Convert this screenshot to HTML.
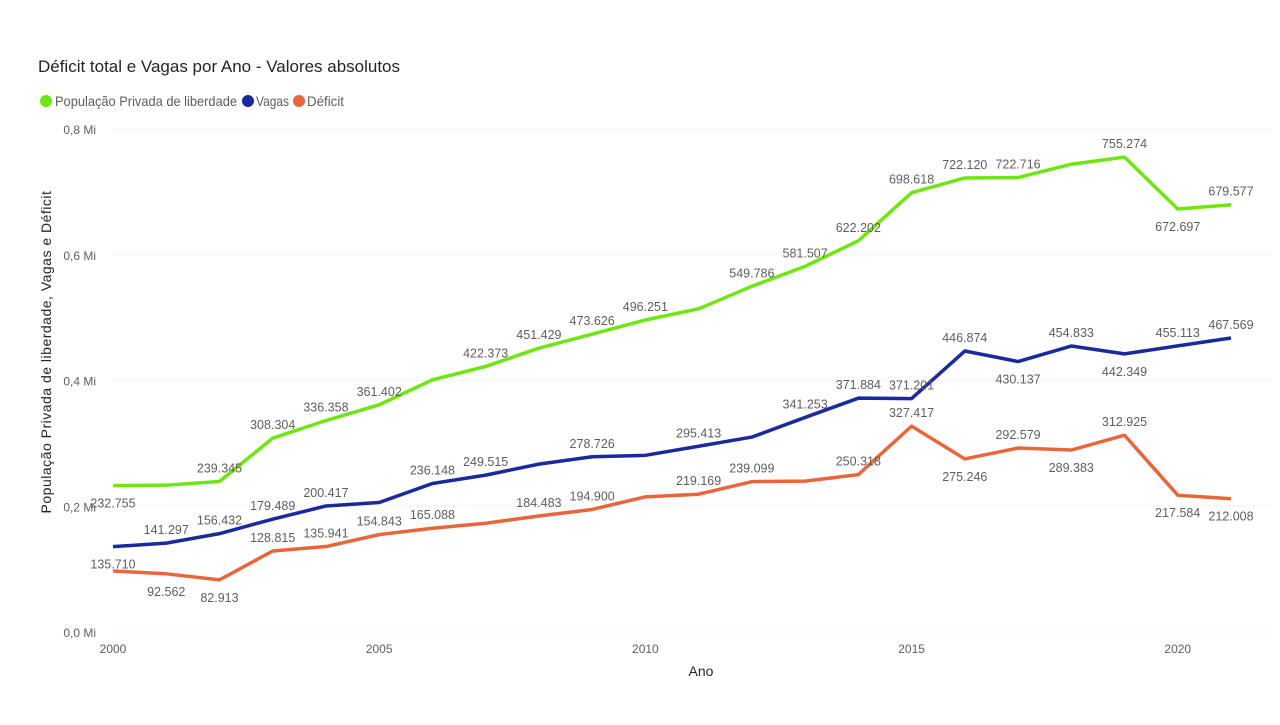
<!DOCTYPE html>
<html><head><meta charset="utf-8"><style>
body{margin:0;background:#fff;width:1280px;height:720px;overflow:hidden;font-family:"Liberation Sans","DejaVu Sans",sans-serif}
</style></head><body>
<svg id="chart" width="1280" height="720" xmlns="http://www.w3.org/2000/svg">
<text x="38" y="72" font-size="17" fill="#252423" textLength="362" lengthAdjust="spacingAndGlyphs">Déficit total e Vagas por Ano - Valores absolutos</text>
<g font-size="14" fill="#605E5C">
<circle cx="46" cy="101" r="6" fill="#6EE612"/><text x="55" y="106" textLength="182" lengthAdjust="spacingAndGlyphs">População Privada de liberdade</text>
<circle cx="248" cy="101" r="6" fill="#1A2A9C"/><text x="256" y="106" textLength="33" lengthAdjust="spacingAndGlyphs">Vagas</text>
<circle cx="299" cy="101" r="6" fill="#E8673A"/><text x="307" y="106" textLength="37" lengthAdjust="spacingAndGlyphs">Déficit</text>
</g>
<text transform="translate(51,352) rotate(-90)" text-anchor="middle" font-size="14" fill="#252423" letter-spacing="0.5">População Privada de liberdade, Vagas e Déficit</text>
<text x="701" y="676" text-anchor="middle" font-size="14" fill="#252423">Ano</text>
<g id="grid"></g><g id="series"></g><g id="labels"></g>
</svg>
<script>
const years=[2000,2001,2002,2003,2004,2005,2006,2007,2008,2009,2010,2011,2012,2013,2014,2015,2016,2017,2018,2019,2020,2021];
const populacao=[232755,233500,239345,308304,336358,361402,401000,422373,451429,473626,496251,514000,549786,581507,622202,698618,722120,722716,744000,755274,672697,679577];
const vagas=[135710,141297,156432,179489,200417,206000,236148,249515,267000,278726,281000,295413,310000,341253,371884,371201,446874,430137,454833,442349,455113,467569];
const deficit=[97000,92562,82913,128815,135941,154843,165088,173000,184483,194900,215000,219169,239099,240000,250318,327417,275246,292579,289383,312925,217584,212008];
const popShown=[1,0,1,1,1,1,0,1,1,1,1,0,1,1,1,1,1,1,0,1,1,1];
const vagShown=[1,1,1,1,1,0,1,1,0,1,0,1,0,1,1,1,1,1,1,1,1,1];
const defShown=[0,1,1,1,1,1,1,0,1,1,0,1,1,0,1,1,1,1,1,1,1,1];
const popBelow=[1,0,0,0,0,0,0,0,0,0,0,0,0,0,0,0,0,0,0,0,1,0];
const vagBelow=[1,0,0,0,0,0,0,0,0,0,0,0,0,0,0,0,0,1,0,1,0,0];
const defBelow=[0,1,1,0,0,0,0,0,0,0,0,0,0,0,0,0,1,0,1,0,1,1];
const yTicks=[0,0.2,0.4,0.6,0.8];
const yTickLabels=["0,0 Mi","0,2 Mi","0,4 Mi","0,6 Mi","0,8 Mi"];
const xTicks=[2000,2005,2010,2015,2020];
const NS="http://www.w3.org/2000/svg";
const x=v=>113+(v-2000)*(1231-113)/21;
const y=v=>632-v/1e6*628.75;
function mk(t,a,p){const e=document.createElementNS(NS,t);for(const k in a)e.setAttribute(k,a[k]);p.appendChild(e);return e;}
const grid=document.getElementById('grid');
yTicks.forEach((t,i)=>{
 const l=mk('line',{x1:113,x2:1270,y1:y(t*1e6),y2:y(t*1e6),stroke:'#D8D8D8','stroke-dasharray':'1,3'},grid);
 
 
 const tx=mk('text',{x:96,y:y(t*1e6)+5,'text-anchor':'end','font-size':12,fill:'#605E5C'},grid);
 tx.textContent=yTickLabels[i];
 
 
});
xTicks.forEach(t=>{
 const tx=mk('text',{x:x(t),y:653,'text-anchor':'middle','font-size':12,fill:'#605E5C'},grid);
 tx.textContent=t;
 
 
});
const fmt=v=>(v/1000).toFixed(3);
const S=[[populacao,'#6EE612','populacao',popShown,popBelow],[vagas,'#1A2A9C','vagas',vagShown,vagBelow],[deficit,'#E8673A','deficit',defShown,defBelow]];
const sg=document.getElementById('series'),lg=document.getElementById('labels');
S.forEach(([d,c,n,sh,bl])=>{
 const p=mk('path',{d:d.map((v,i)=>(i?'L':'M')+x(years[i])+','+y(v)).join(''),fill:'none',stroke:c,'stroke-width':3.5,'stroke-linejoin':'round'},sg);
 
 
 d.forEach((v,i)=>{
  if(!sh[i])return;
  const t=mk('text',{x:x(years[i]),y:y(v)+(bl[i]?22:-9),'text-anchor':'middle','font-size':12.5,fill:'#605E5C'},lg);
  t.textContent=fmt(v);
  
  
 });
});
</script>
</body></html>
